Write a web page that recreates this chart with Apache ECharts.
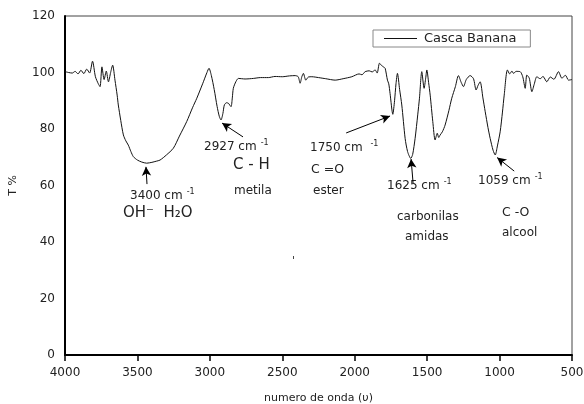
<!DOCTYPE html>
<html>
<head>
<meta charset="utf-8">
<script src="https://cdn.jsdelivr.net/npm/echarts@6/dist/echarts.min.js"></script>
<style>
  html, body { margin: 0; padding: 0; background: #fff; }
  #chart { width: 584px; height: 404px; }
</style>
</head>
<body>
<div id="chart"></div>
<script>
  // espectro FTIR - casca de banana
  const wavenumbers = [4000, 3975, 3950, 3930, 3910, 3890, 3870, 3850, 3830, 3810, 3790, 3770, 3758, 3745, 3730, 3715, 3700, 3685, 3671, 3655,
    3640, 3632, 3615, 3597, 3580, 3563, 3545, 3528, 3500, 3470, 3436, 3400, 3370, 3344, 3300, 3252, 3210, 3160, 3120, 3090,
    3050, 3020, 3006, 2990, 2970, 2950, 2935, 2923, 2910, 2900, 2885, 2872, 2854, 2845, 2838, 2820, 2803, 2780, 2757, 2700,
    2650, 2596, 2550, 2500, 2450, 2412, 2390, 2377, 2365, 2354, 2345, 2338, 2320, 2296, 2250, 2200, 2135, 2080, 2020, 1970,
    1950, 1928, 1900, 1880, 1859, 1845, 1829, 1815, 1802, 1790, 1774, 1765, 1756, 1737, 1725, 1715, 1705, 1690, 1675, 1652,
    1635, 1613, 1600, 1583, 1565, 1553, 1537, 1521, 1510, 1502, 1490, 1479, 1461, 1445, 1430, 1420, 1410, 1395, 1376, 1350,
    1330, 1305, 1284, 1265, 1249, 1230, 1203, 1180, 1162, 1148, 1134, 1115, 1099, 1080, 1065, 1045, 1030, 1015, 996, 980,
    968, 946, 930, 915, 904, 885, 858, 840, 823, 812, 795, 777, 760, 743, 720, 700, 674, 650, 625, 593,
    570, 545, 524, 500];
  const transmittance = [100.3, 100.0, 99.8, 100.4, 99.5, 100.8, 99.6, 101.2, 99.8, 104.0, 98.5, 96.0, 95.0, 102.0, 97.5, 100.5, 96.7, 100.0, 102.6, 97.3,
    92.0, 88.5, 83.0, 77.9, 75.8, 74.3, 72.0, 70.2, 69.0, 68.3, 67.9, 68.2, 68.6, 69.0, 70.8, 73.2, 77.5, 82.6, 87.5, 90.9,
    96.0, 100.0, 101.5, 99.0, 94.0, 88.0, 84.5, 83.2, 85.5, 88.5, 89.3, 89.1, 87.9, 91.0, 94.4, 96.8, 97.9, 97.8, 97.7, 97.9,
    98.2, 98.2, 98.6, 98.5, 98.8, 98.9, 98.5, 96.2, 98.5, 99.7, 98.2, 97.3, 98.4, 98.5, 98.2, 97.8, 97.3, 97.8, 98.5, 99.5,
    99.2, 100.3, 100.6, 100.2, 100.9, 99.8, 103.3, 102.5, 102.0, 101.5, 97.3, 96.0, 92.6, 85.2, 90.0, 96.0, 99.7, 94.0, 88.5, 76.7,
    72.0, 69.6, 71.0, 76.7, 85.0, 90.9, 100.3, 94.4, 98.0, 100.9, 96.5, 92.0, 82.6, 76.1, 78.5, 77.0, 77.9, 79.0, 81.4, 86.5,
    90.9, 95.0, 98.9, 96.5, 95.0, 97.5, 98.9, 97.8, 93.8, 95.5, 96.7, 91.0, 86.1, 80.5, 76.7, 72.5, 70.8, 74.0, 79.0, 86.0,
    92.0, 100.9, 99.5, 100.5, 99.7, 100.4, 100.3, 98.5, 94.4, 99.1, 98.0, 93.2, 96.0, 98.5, 97.8, 98.6, 96.7, 98.4, 97.6, 100.3,
    98.0, 99.0, 97.3, 97.5];
  const xTicks = [4000, 3500, 3000, 2500, 2000, 1500, 1000, 500];
  const yTicks = [0, 20, 40, 60, 80, 100, 120];

  // setas: [cauda, ponta] em coordenadas de dados
  const arrows = [
    [[3434, 60.5], [3441, 66.6]],
    [[2771, 77.2], [2916, 82.1]],
    [[2059, 78.6], [1756, 84.6]],
    [[1597, 60.9], [1611, 69.4]],
    [[899, 65.1], [1017, 69.9]]
  ];

  const font = 'DejaVu Sans';
  const chart = echarts.init(document.getElementById('chart'));

  function label(x, y, text, size, rich) {
    return {
      type: 'text', left: x, top: y,
      style: { text: text, fontFamily: font, fontSize: size || 12, fill: '#222', rich: rich }
    };
  }
  const cmRich = { s: { fontSize: 8, fontFamily: font, fill: '#222', verticalAlign: 'top', padding: [0, 0, 8, 4] } };

  chart.setOption({
    animation: false,
    grid: {
      left: 65, right: 12, top: 16, bottom: 49,
      containLabel: false, outerBoundsMode: 'none',
      show: true, borderColor: '#444', borderWidth: 1
    },
    legend: {
      left: 373, top: 30,
      padding: [2, 14, 2, 11],
      itemGap: 5,
      backgroundColor: '#fff',
      borderColor: '#888', borderWidth: 1, borderRadius: 0,
      icon: 'rect', itemWidth: 33, itemHeight: 1,
      textStyle: { fontFamily: font, fontSize: 13, color: '#222', padding: [0, 0, 0, 2] },
      data: ['Casca Banana']
    },
    xAxis: {
      type: 'value', inverse: true,
      min: xTicks[xTicks.length - 1], max: xTicks[0], interval: 500,
      name: 'numero de onda (υ)', nameLocation: 'middle', nameGap: 38,
      nameTextStyle: { fontFamily: font, fontSize: 11, color: '#222' },
      axisLine: { lineStyle: { color: '#000', width: 2 } },
      axisTick: { show: true, length: 6, lineStyle: { color: '#000', width: 1.5 } },
      axisLabel: { fontFamily: font, fontSize: 12, color: '#222', margin: 12, formatter: v => String(v) },
      splitLine: { show: false }
    },
    yAxis: {
      type: 'value', min: yTicks[0], max: yTicks[yTicks.length - 1], interval: 20,
      name: 'T %', nameLocation: 'middle', nameGap: 46, nameRotate: 90,
      nameTextStyle: { fontFamily: font, fontSize: 11, color: '#222' },
      axisLine: { show: true, lineStyle: { color: '#000', width: 2 } },
      axisTick: { show: false },
      axisLabel: { fontFamily: font, fontSize: 12, color: '#222', margin: 10 },
      splitLine: { show: false }
    },
    series: [{
      name: 'Casca Banana',
      type: 'line',
      data: wavenumbers.map((w, i) => [w, transmittance[i]]),
      showSymbol: false,
      smooth: 0.25,
      lineStyle: { color: '#111', width: 1 },
      itemStyle: { color: '#111' },
      markLine: {
        silent: true,
        symbol: ['none', 'arrow'],
        symbolSize: [7, 9],
        label: { show: false },
        lineStyle: { color: '#000', width: 1, type: 'solid' },
        data: arrows.map(a => [{ coord: a[0] }, { coord: a[1] }])
      }
    }],
    graphic: [
      label(130, 188, '3400 cm{s|-1}', 12, cmRich),
      label(123, 206, 'OH⁻  H₂O', 15),
      label(204, 139, '2927 cm{s|-1}', 12, cmRich),
      label(233, 158, 'C - H', 15),
      label(234, 185, 'metila', 12),
      label(310, 140, '1750 cm {s|-1}', 12, cmRich),
      label(311, 163, 'C =O', 12.5),
      label(313, 185, 'ester', 12),
      label(387, 178, '1625 cm{s|-1}', 12, cmRich),
      label(397, 211, 'carbonilas', 12),
      label(405, 231, 'amidas', 12),
      label(478, 173, '1059 cm{s|-1}', 12, cmRich),
      label(502, 206, 'C -O', 12.5),
      label(502, 227, 'alcool', 12),
      { type: 'rect', left: 293, top: 256, shape: { width: 1, height: 3 }, style: { fill: '#444' } }
    ]
  });
</script>
</body>
</html>
